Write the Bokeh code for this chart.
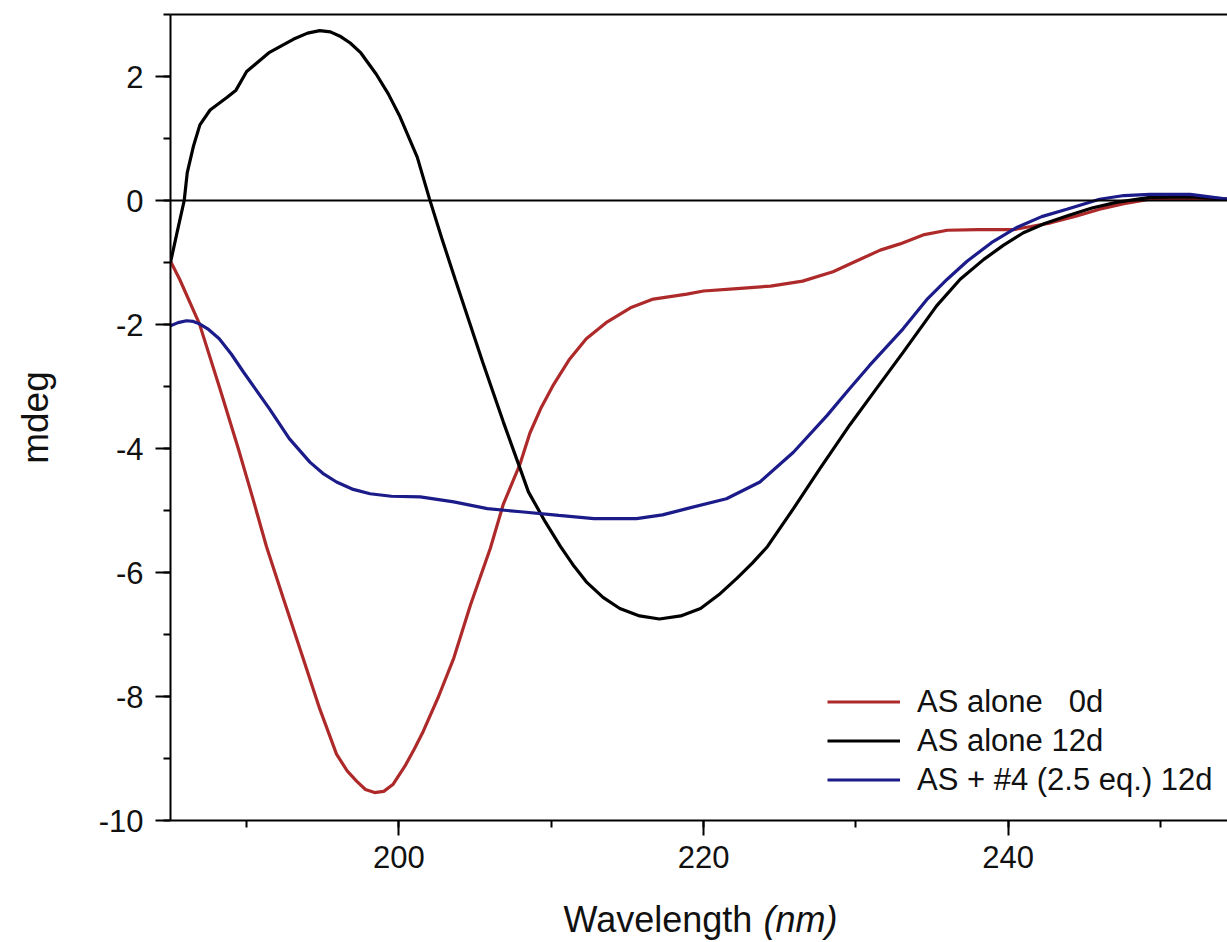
from bokeh.plotting import figure
from bokeh.layouts import column
from bokeh.models import (Span, Legend, LegendItem, LinearAxis, FixedTicker,
                          SingleIntervalTicker, Label, Range1d, CustomJSTickFormatter)
from bokeh.embed import file_html
from bokeh.resources import INLINE

# ---- data ----
wl_0d = [185.0, 185.6, 186.9, 188.2, 189.45, 190.4, 191.3, 192.4, 193.7, 194.8,
         195.9, 196.6, 197.2, 197.8, 198.4, 199.0, 199.6, 200.4, 201.0, 201.6,
         202.6, 203.6, 204.7, 206.0, 206.85, 207.95, 208.6, 209.3, 210.1, 211.2,
         212.3, 213.6, 215.2, 216.7, 218.9, 220.0, 222.2, 224.4, 226.5, 228.5,
         230.0, 231.6, 232.9, 234.5, 236.0, 238.0, 240.35, 241.5, 242.8, 244.5,
         246.0, 247.6, 249.3, 252.0, 254.4]
mdeg_0d = [-0.98, -1.27, -1.99, -3.0, -4.0, -4.8, -5.58, -6.41, -7.38, -8.2,
           -8.93, -9.2, -9.36, -9.5, -9.55, -9.53, -9.42, -9.12, -8.85, -8.56,
           -8.0, -7.38, -6.52, -5.61, -4.9, -4.25, -3.75, -3.36, -2.99, -2.56,
           -2.23, -1.97, -1.73, -1.59, -1.51, -1.46, -1.42, -1.38, -1.3, -1.15,
           -0.98, -0.8, -0.7, -0.55, -0.48, -0.47, -0.47, -0.42, -0.36, -0.25,
           -0.14, -0.05, 0.02, 0.03, 0.02]

wl_12d = [185.0, 185.4, 185.9, 186.1, 186.5, 186.93, 187.6, 188.7, 189.3, 190.0,
          191.5, 193.06, 194.0, 194.8, 195.5, 196.2, 196.8, 197.5, 198.5, 199.3,
          200.07, 201.2, 202.0, 202.8, 203.7, 205.5, 206.85, 207.95, 208.5, 209.6,
          210.6, 211.5, 212.3, 213.4, 214.5, 215.8, 217.1, 218.5, 219.8, 221.0,
          222.2, 223.2, 224.2, 225.9, 227.65, 229.6, 231.3, 233.1, 235.3, 236.85,
          238.4, 239.7, 241.0, 242.4, 243.85, 245.5, 247.1, 249.3, 252.0, 254.4]
mdeg_12d = [-1.0, -0.55, 0.0, 0.45, 0.87, 1.22, 1.46, 1.66, 1.78, 2.08,
            2.39, 2.6, 2.7, 2.74, 2.72, 2.64, 2.54, 2.38, 2.04, 1.72,
            1.35, 0.7, 0.03, -0.6, -1.28, -2.61, -3.57, -4.32, -4.7, -5.18,
            -5.58, -5.9, -6.15, -6.4, -6.58, -6.7, -6.75, -6.7, -6.58, -6.36,
            -6.09, -5.85, -5.58, -4.97, -4.32, -3.62, -3.05, -2.45, -1.7, -1.27,
            -0.95, -0.72, -0.52, -0.37, -0.25, -0.12, -0.03, 0.05, 0.06, 0.02]

wl_drug = [185.0, 185.5, 186.05, 186.5, 186.9, 187.5, 188.2, 189.0, 189.8, 191.5,
           192.8, 194.15, 195.0, 195.9, 197.0, 198.1, 199.5, 201.4, 203.6, 205.8,
           208.0, 210.5, 212.8, 215.6, 217.3, 218.9, 221.5, 223.7, 225.9, 228.1,
           229.5, 230.9, 233.1, 234.65, 236.0, 237.3, 238.9, 240.6, 242.2, 243.85,
           246.0, 247.6, 249.3, 251.95, 254.4]
mdeg_drug = [-2.02, -1.97, -1.94, -1.95, -1.99, -2.08, -2.23, -2.48, -2.77, -3.36,
             -3.84, -4.22, -4.4, -4.54, -4.66, -4.73, -4.77, -4.78, -4.86, -4.97,
             -5.02, -5.08, -5.13, -5.13, -5.07, -4.97, -4.81, -4.54, -4.06, -3.47,
             -3.06, -2.66, -2.07, -1.6, -1.27, -0.98, -0.68, -0.43, -0.26, -0.14,
             0.02, 0.08, 0.1, 0.1, 0.02]

labels = ["AS alone   0d", "AS alone 12d", "AS + #4 (2.5 eq.) 12d"]
colors = ["#AE2A2A", "#000000", "#1B1B8A"]
x_title = "Wavelength"
x_unit = "(nm)"
y_title = "mdeg"

FONT = "Liberation Sans"
TXT = "#111111"

p = figure(width=1227, height=884, output_backend="svg", toolbar_location=None,
           x_range=Range1d(185.0, 254.4), y_range=Range1d(-10, 3),
           min_border_left=170, min_border_right=0, min_border_top=14,
           min_border_bottom=64)
p.outline_line_color = None
p.grid.visible = False
p.background_fill_color = "white"
p.border_fill_color = "white"

r0 = p.line(wl_0d, mdeg_0d, line_color=colors[0], line_width=3.2)
r1 = p.line(wl_12d, mdeg_12d, line_color=colors[1], line_width=3.2)
r2 = p.line(wl_drug, mdeg_drug, line_color=colors[2], line_width=3.2)

p.add_layout(Span(location=0, dimension="width", line_color="black", line_width=2))

for ax in (p.xaxis[0], p.yaxis[0]):
    ax.axis_line_width = 2
    ax.major_tick_line_width = 2
    ax.minor_tick_line_width = 2
    ax.major_tick_out = 15
    ax.major_tick_in = 0
    ax.minor_tick_out = 7
    ax.minor_tick_in = 0
    ax.major_label_text_font = FONT
    ax.major_label_text_font_size = "31px"
    ax.major_label_text_color = TXT
    ax.formatter = CustomJSTickFormatter(code="return String(Math.round(tick));")

p.xaxis[0].ticker = SingleIntervalTicker(interval=20, num_minor_ticks=2)
p.yaxis[0].ticker = SingleIntervalTicker(interval=2, num_minor_ticks=2)
p.xaxis[0].major_label_standoff = 10
p.yaxis[0].major_label_standoff = 12

p.yaxis[0].axis_label = y_title
p.yaxis[0].axis_label_text_font = FONT
p.yaxis[0].axis_label_text_font_style = "normal"
p.yaxis[0].axis_label_text_font_size = "37px"
p.yaxis[0].axis_label_text_color = TXT
p.yaxis[0].axis_label_standoff = 40

# top border line
top = LinearAxis(ticker=FixedTicker(ticks=[]), axis_line_width=2,
                 major_tick_line_color=None, minor_tick_line_color=None,
                 major_label_text_font_size="0px")
p.add_layout(top, "above")

legend = Legend(items=[LegendItem(label=labels[0], renderers=[r0]),
                       LegendItem(label=labels[1], renderers=[r1]),
                       LegendItem(label=labels[2], renderers=[r2])],
                location=(657, 21), padding=0, margin=0, spacing=0,
                glyph_width=73, glyph_height=39, label_height=39,
                label_standoff=17, label_text_font=FONT,
                label_text_font_size="31px", label_text_color=TXT,
                border_line_alpha=0, background_fill_alpha=0)
p.add_layout(legend)

# strip below the plot carrying the x-axis title (normal + italic part);
# its frame is aligned with the main frame (page x 170..1227)
p2 = figure(width=1227, height=56, output_backend="svg", toolbar_location=None,
            x_range=Range1d(170, 1227), y_range=Range1d(0, 56),
            min_border=0, x_axis_type=None, y_axis_type=None)
p2.outline_line_color = None
p2.grid.visible = False
p2.add_layout(Label(x=563, y=21, text=x_title, text_font=FONT,
                    text_font_size="36px", text_color=TXT,
                    text_baseline="alphabetic"))
p2.add_layout(Label(x=763, y=21, text=x_unit, text_font=FONT,
                    text_font_style="italic", text_font_size="36px",
                    text_color=TXT, text_baseline="alphabetic"))

open("out.html", "w").write(file_html(column(p, p2, spacing=0), INLINE))
